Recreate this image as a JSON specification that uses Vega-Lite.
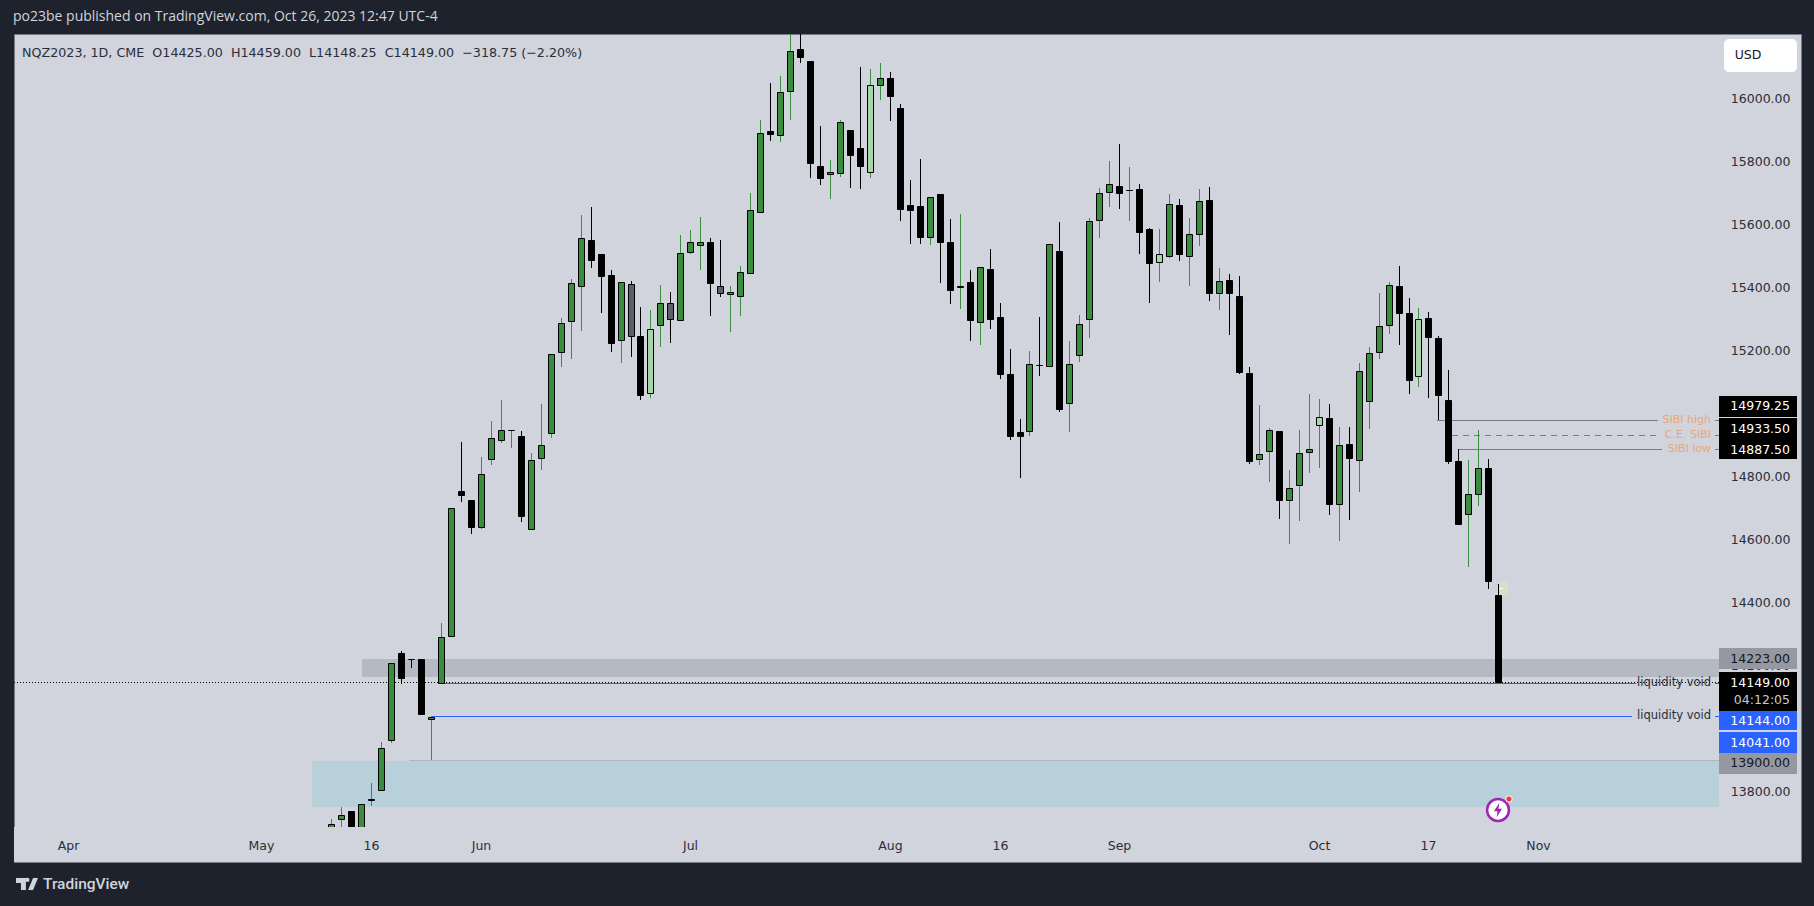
{
  "$schema": "https://vega.github.io/schema/vega-lite/v6.json",
  "description": "NQZ2023 daily candles with SIBI and liquidity void levels",
  "autosize": "none",
  "width": 1787,
  "height": 828,
  "padding": {"left": 14, "top": 34, "right": 13, "bottom": 44},
  "background": "#1e222d",
  "view": {"fill": "#d1d4dc", "stroke": "#787b86", "strokeWidth": 1},
  "title": {"text": "po23be published on TradingView.com, Oct 26, 2023 12:47 UTC-4", "anchor": "start", "frame": "group", "offset": 10, "dx": -1, "font": "Open Sans", "fontSize": 14, "fontWeight": "normal", "color": "#d1d4dc"},
  "datasets": {
    "candles": [
      {"i":0,"kind":"up","o":13662,"h":13712,"l":13646,"c":13697},
      {"i":1,"kind":"up","o":13712,"h":13750,"l":13662,"c":13726},
      {"i":2,"kind":"down","o":13739,"h":13739,"l":13652,"c":13652},
      {"i":3,"kind":"up","o":13662,"h":13761,"l":13662,"c":13761},
      {"i":4,"kind":"up","o":13772,"h":13826,"l":13755,"c":13777},
      {"i":5,"kind":"up","o":13804,"h":13956,"l":13804,"c":13938},
      {"i":6,"kind":"up","o":13963,"h":14208,"l":13955,"c":14208},
      {"i":7,"kind":"down","o":14238,"h":14246,"l":14142,"c":14161},
      {"i":8,"kind":"down","o":14221,"h":14221,"l":14192,"c":14219},
      {"i":9,"kind":"down","o":14219,"h":14219,"l":14044,"c":14044},
      {"i":10,"kind":"up","o":14029,"h":14037,"l":13900,"c":14037},
      {"i":11,"kind":"up","o":14143,"h":14334,"l":14143,"c":14291},
      {"i":12,"kind":"up","o":14293,"h":14700,"l":14293,"c":14700},
      {"i":13,"kind":"down","o":14754,"h":14909,"l":14718,"c":14739},
      {"i":14,"kind":"down","o":14726,"h":14726,"l":14618,"c":14638},
      {"i":15,"kind":"up","o":14638,"h":14861,"l":14633,"c":14808},
      {"i":16,"kind":"up","o":14854,"h":14975,"l":14836,"c":14922},
      {"i":17,"kind":"up","o":14914,"h":15042,"l":14905,"c":14947},
      {"i":18,"kind":"up","o":14946,"h":14948,"l":14890,"c":14948},
      {"i":19,"kind":"down","o":14926,"h":14944,"l":14655,"c":14675},
      {"i":20,"kind":"up","o":14632,"h":14874,"l":14632,"c":14852},
      {"i":21,"kind":"up","o":14857,"h":15029,"l":14820,"c":14900},
      {"i":22,"kind":"up","o":14937,"h":15188,"l":14921,"c":15188},
      {"i":23,"kind":"up","o":15194,"h":15301,"l":15147,"c":15287},
      {"i":24,"kind":"up","o":15292,"h":15425,"l":15172,"c":15414},
      {"i":25,"kind":"up","o":15403,"h":15628,"l":15262,"c":15556},
      {"i":26,"kind":"down","o":15550,"h":15653,"l":15462,"c":15485},
      {"i":27,"kind":"down","o":15506,"h":15506,"l":15318,"c":15435},
      {"i":28,"kind":"down","o":15439,"h":15454,"l":15195,"c":15222},
      {"i":29,"kind":"up","o":15232,"h":15417,"l":15160,"c":15417},
      {"i":30,"kind":"grey","o":15411,"h":15419,"l":15179,"c":15246},
      {"i":31,"kind":"down","o":15246,"h":15337,"l":15042,"c":15057},
      {"i":32,"kind":"light","o":15063,"h":15327,"l":15049,"c":15268},
      {"i":33,"kind":"up","o":15280,"h":15406,"l":15211,"c":15350},
      {"i":34,"kind":"grey","o":15350,"h":15385,"l":15224,"c":15299},
      {"i":35,"kind":"up","o":15295,"h":15564,"l":15295,"c":15509},
      {"i":36,"kind":"up","o":15511,"h":15581,"l":15506,"c":15544},
      {"i":37,"kind":"up","o":15533,"h":15622,"l":15454,"c":15544},
      {"i":38,"kind":"down","o":15544,"h":15555,"l":15309,"c":15412},
      {"i":39,"kind":"grey","o":15404,"h":15550,"l":15370,"c":15381},
      {"i":40,"kind":"up","o":15378,"h":15403,"l":15259,"c":15385},
      {"i":41,"kind":"up","o":15371,"h":15466,"l":15309,"c":15449},
      {"i":42,"kind":"up","o":15444,"h":15698,"l":15444,"c":15645},
      {"i":43,"kind":"up","o":15638,"h":15930,"l":15638,"c":15890},
      {"i":44,"kind":"down","o":15894,"h":16048,"l":15864,"c":15887},
      {"i":45,"kind":"up","o":15882,"h":16070,"l":15861,"c":16020},
      {"i":46,"kind":"up","o":16022,"h":16232,"l":15931,"c":16150},
      {"i":47,"kind":"down","o":16154,"h":16232,"l":16111,"c":16129},
      {"i":48,"kind":"down","o":16116,"h":16116,"l":15746,"c":15793},
      {"i":49,"kind":"down","o":15783,"h":15911,"l":15724,"c":15745},
      {"i":50,"kind":"up","o":15758,"h":15803,"l":15680,"c":15766},
      {"i":51,"kind":"up","o":15761,"h":15930,"l":15749,"c":15925},
      {"i":52,"kind":"down","o":15897,"h":15897,"l":15714,"c":15819},
      {"i":53,"kind":"down","o":15840,"h":16098,"l":15711,"c":15783},
      {"i":54,"kind":"light","o":15765,"h":16092,"l":15746,"c":16042},
      {"i":55,"kind":"up","o":16041,"h":16111,"l":15994,"c":16064},
      {"i":56,"kind":"down","o":16064,"h":16083,"l":15927,"c":16005},
      {"i":57,"kind":"down","o":15967,"h":15981,"l":15611,"c":15647},
      {"i":58,"kind":"down","o":15662,"h":15740,"l":15537,"c":15646},
      {"i":59,"kind":"down","o":15656,"h":15806,"l":15537,"c":15558},
      {"i":60,"kind":"up","o":15558,"h":15687,"l":15534,"c":15687},
      {"i":61,"kind":"down","o":15694,"h":15694,"l":15413,"c":15542},
      {"i":62,"kind":"down","o":15542,"h":15616,"l":15346,"c":15390},
      {"i":63,"kind":"up","o":15400,"h":15632,"l":15331,"c":15404},
      {"i":64,"kind":"down","o":15415,"h":15454,"l":15229,"c":15295},
      {"i":65,"kind":"up","o":15289,"h":15464,"l":15216,"c":15464},
      {"i":66,"kind":"down","o":15459,"h":15521,"l":15267,"c":15298},
      {"i":67,"kind":"down","o":15304,"h":15350,"l":15108,"c":15124},
      {"i":68,"kind":"down","o":15123,"h":15204,"l":14915,"c":14926},
      {"i":69,"kind":"down","o":14939,"h":14982,"l":14794,"c":14926},
      {"i":70,"kind":"up","o":14942,"h":15197,"l":14928,"c":15157},
      {"i":71,"kind":"down","o":15154,"h":15305,"l":15119,"c":15152},
      {"i":72,"kind":"up","o":15149,"h":15537,"l":15149,"c":15537},
      {"i":73,"kind":"down","o":15516,"h":15607,"l":15004,"c":15012},
      {"i":74,"kind":"up","o":15032,"h":15229,"l":14940,"c":15157},
      {"i":75,"kind":"up","o":15184,"h":15311,"l":15162,"c":15284},
      {"i":76,"kind":"up","o":15298,"h":15619,"l":15239,"c":15610},
      {"i":77,"kind":"up","o":15614,"h":15714,"l":15556,"c":15699},
      {"i":78,"kind":"up","o":15702,"h":15800,"l":15654,"c":15728},
      {"i":79,"kind":"down","o":15722,"h":15854,"l":15648,"c":15700},
      {"i":80,"kind":"up","o":15707,"h":15781,"l":15610,"c":15709},
      {"i":81,"kind":"down","o":15710,"h":15727,"l":15505,"c":15576},
      {"i":82,"kind":"down","o":15583,"h":15588,"l":15350,"c":15478},
      {"i":83,"kind":"light","o":15479,"h":15584,"l":15416,"c":15506},
      {"i":84,"kind":"up","o":15498,"h":15695,"l":15492,"c":15664},
      {"i":85,"kind":"down","o":15659,"h":15680,"l":15483,"c":15504},
      {"i":86,"kind":"up","o":15498,"h":15619,"l":15404,"c":15569},
      {"i":87,"kind":"up","o":15568,"h":15711,"l":15530,"c":15674},
      {"i":88,"kind":"down","o":15675,"h":15718,"l":15356,"c":15380},
      {"i":89,"kind":"up","o":15381,"h":15461,"l":15327,"c":15420},
      {"i":90,"kind":"down","o":15421,"h":15442,"l":15248,"c":15380},
      {"i":91,"kind":"down","o":15373,"h":15435,"l":15124,"c":15132},
      {"i":92,"kind":"down","o":15129,"h":15147,"l":14839,"c":14847},
      {"i":93,"kind":"up","o":14854,"h":15026,"l":14836,"c":14871},
      {"i":94,"kind":"up","o":14879,"h":14953,"l":14782,"c":14947},
      {"i":95,"kind":"down","o":14945,"h":14945,"l":14664,"c":14723},
      {"i":96,"kind":"up","o":14724,"h":14820,"l":14585,"c":14763},
      {"i":97,"kind":"up","o":14772,"h":14947,"l":14658,"c":14874},
      {"i":98,"kind":"up","o":14876,"h":15061,"l":14810,"c":14887},
      {"i":99,"kind":"light","o":14962,"h":15045,"l":14826,"c":14989},
      {"i":100,"kind":"down","o":14986,"h":15029,"l":14677,"c":14712},
      {"i":101,"kind":"up","o":14712,"h":14956,"l":14595,"c":14900},
      {"i":102,"kind":"down","o":14901,"h":14956,"l":14661,"c":14859},
      {"i":103,"kind":"up","o":14851,"h":15159,"l":14750,"c":15135},
      {"i":104,"kind":"up","o":15038,"h":15210,"l":14950,"c":15192},
      {"i":105,"kind":"up","o":15194,"h":15381,"l":15172,"c":15277},
      {"i":106,"kind":"up","o":15279,"h":15416,"l":15251,"c":15407},
      {"i":107,"kind":"down","o":15405,"h":15467,"l":15216,"c":15319},
      {"i":108,"kind":"down","o":15319,"h":15365,"l":15061,"c":15104},
      {"i":109,"kind":"light","o":15117,"h":15334,"l":15083,"c":15299},
      {"i":110,"kind":"down","o":15302,"h":15321,"l":15048,"c":15242},
      {"i":111,"kind":"down","o":15237,"h":15245,"l":14978,"c":15059},
      {"i":112,"kind":"down","o":15043,"h":15137,"l":14839,"c":14847},
      {"i":113,"kind":"down","o":14847,"h":14886,"l":14647,"c":14647},
      {"i":114,"kind":"up","o":14680,"h":14852,"l":14512,"c":14744},
      {"i":115,"kind":"up","o":14743,"h":14947,"l":14707,"c":14827},
      {"i":116,"kind":"down","o":14825,"h":14855,"l":14442,"c":14466},
      {"i":117,"kind":"down","o":14422,"h":14458,"l":14147,"c":14147}
    ]
  },
  "encoding": {
    "x": {
      "field": "i",
      "type": "quantitative",
      "scale": {"domain": [-31.81, 147.35], "nice": false, "zero": false, "round": true, "padding": 0},
      "axis": {
        "title": null,
        "orient": "bottom",
        "offset": -26,
        "zindex": 1,
        "grid": false,
        "domain": false,
        "ticks": false,
        "labelPadding": 3,
        "labelFont": "DejaVu Sans",
        "labelFontSize": 12.5,
        "labelColor": "#2a2e39",
        "labelBound": false,
        "labelFlush": false,
        "labelOverlap": false,
        "values": [-26.4, -7, 4, 15, 36, 56, 67, 79, 99, 110, 121],
        "labelExpr": "({'-26.4':'Apr','-7':'May','4':'16','15':'Jun','36':'Jul','56':'Aug','67':'16','79':'Sep','99':'Oct','110':'17','121':'Nov'})[datum.value]"
      }
    },
    "y": {
      "field": "p",
      "type": "quantitative",
      "scale": {"domain": [13576, 16203], "nice": false, "zero": false, "round": true},
      "axis": {
        "title": null,
        "orient": "right",
        "offset": -11,
        "grid": false,
        "domain": false,
        "ticks": false,
        "labelPadding": 0,
        "labelAlign": "right",
        "labelFont": "DejaVu Sans",
        "labelFontSize": 12.5,
        "labelColor": "#2a2e39",
        "labelOverlap": false,
        "values": [13800, 14200, 14400, 14600, 14800, 15200, 15400, 15600, 15800, 16000],
        "format": ".2f"
      }
    }
  },
  "layer": [
    {
      "data": {"values": [{"i": -1.93, "i2": 139.13, "p": 13896.5, "p2": 13750.5}]},
      "mark": {"type": "rect", "color": "#b8d0da"},
      "encoding": {"x2": {"field": "i2"}, "y2": {"field": "p2"}}
    },
    {
      "data": {"values": [{"i": 3.08, "i2": 139.13, "p": 14221, "p2": 14164}]},
      "mark": {"type": "rect", "color": "#b5b9c2"},
      "encoding": {"x2": {"field": "i2"}, "y2": {"field": "p2"}}
    },
    {
      "data": {"values": [{"i": 7.8, "i2": 139.13, "p": 13898.7}]},
      "mark": {"type": "rule", "color": "#b2b5be", "strokeWidth": 1, "yOffset": 0.5},
      "encoding": {"x2": {"field": "i2"}}
    },
    {
      "data": {"values": [
        {"i": 110.9, "i2": 133, "p": 14977.4},
        {"i": 138.7, "i2": 139.13, "p": 14977.4},
        {"i": 138.7, "i2": 139.13, "p": 14929.8},
        {"i": 113, "i2": 133.4, "p": 14885.4},
        {"i": 138.7, "i2": 139.13, "p": 14885.4}
      ]},
      "mark": {"type": "rule", "color": "#787b86", "strokeWidth": 1, "yOffset": 0.5},
      "encoding": {"x2": {"field": "i2"}}
    },
    {
      "data": {"values": [{"i": 112.4, "i2": 133.2, "p": 14929.8}]},
      "mark": {"type": "rule", "color": "#787b86", "strokeWidth": 1, "strokeDash": [6, 5], "yOffset": 0.5},
      "encoding": {"x2": {"field": "i2"}}
    },
    {
      "data": {"values": [
        {"i": 11, "i2": 130.8, "p": 14143},
        {"i": 138.7, "i2": 139.13, "p": 14143},
        {"i": 10, "i2": 130.4, "p": 14039.3},
        {"i": 138.7, "i2": 139.13, "p": 14039.3}
      ]},
      "mark": {"type": "rule", "color": "#2962ff", "strokeWidth": 1, "yOffset": 0.5},
      "encoding": {"x2": {"field": "i2"}}
    },
    {
      "data": {"values": [{"i": -31.81, "i2": 139.13, "p": 14146}]},
      "mark": {"type": "rule", "color": "#000000", "strokeWidth": 1, "strokeDash": [1, 2], "yOffset": 0.5},
      "encoding": {"x2": {"field": "i2"}}
    },
    {
      "data": {"name": "candles"},
      "mark": {"type": "rule", "strokeWidth": 1, "clip": true, "xOffset": 0.5},
      "encoding": {
        "y": {
          "field": "h",
          "type": "quantitative",
          "axis": {"title": null, "orient": "right", "offset": -11, "grid": false, "domain": false, "ticks": false, "labelPadding": 0, "labelAlign": "right", "labelFont": "DejaVu Sans", "labelFontSize": 12.5, "labelColor": "#2a2e39", "labelOverlap": false, "values": [13800, 14200, 14400, 14600, 14800, 15200, 15400, 15600, 15800, 16000], "format": ".2f"}
        },
        "y2": {"field": "l"},
        "stroke": {"field": "kind", "type": "nominal", "legend": null, "scale": {"domain": ["up", "light", "down", "grey"], "range": ["#388e3c", "#388e3c", "#000000", "#000000"]}}
      }
    },
    {
      "data": {"name": "candles"},
      "mark": {"type": "bar", "orient": "vertical", "size": 6, "stroke": "#000000", "strokeWidth": 1, "clip": true, "xOffset": 0.5, "yOffset": 0.5, "y2Offset": 0.5},
      "encoding": {
        "y": {
          "field": "o",
          "type": "quantitative",
          "axis": {"title": null, "orient": "right", "offset": -11, "grid": false, "domain": false, "ticks": false, "labelPadding": 0, "labelAlign": "right", "labelFont": "DejaVu Sans", "labelFontSize": 12.5, "labelColor": "#2a2e39", "labelOverlap": false, "values": [13800, 14200, 14400, 14600, 14800, 15200, 15400, 15600, 15800, 16000], "format": ".2f"}
        },
        "y2": {"field": "c"},
        "fill": {"field": "kind", "type": "nominal", "legend": null, "scale": {"domain": ["up", "light", "down", "grey"], "range": ["#388e3c", "#a5d6a7", "#000000", "#5d606b"]}}
      }
    },
    {
      "data": {"values": [{"i": 117.07, "i2": 117.98, "p": 14463.5, "p2": 14423.1}]},
      "mark": {"type": "rect", "color": "#dcdcc8"},
      "encoding": {"x2": {"field": "i2"}, "y2": {"field": "p2"}}
    },
    {
      "data": {"values": [{"i": 117.07, "i2": 117.5, "p": 14444.4}]},
      "mark": {"type": "rule", "color": "#ffffff", "strokeWidth": 1, "yOffset": 0.5},
      "encoding": {"x2": {"field": "i2"}}
    },
    {
      "data": {"values": [{"i": -31.81, "i2": 139.13, "p": 13687, "p2": 13576}]},
      "mark": {"type": "rect", "color": "#d1d4dc"},
      "encoding": {"x2": {"field": "i2"}, "y2": {"field": "p2"}}
    },
    {
      "data": {"values": [{"i": -31, "p": 16143, "label": "NQZ2023, 1D, CME\u00a0\u00a0O14425.00\u00a0\u00a0H14459.00\u00a0\u00a0L14148.25\u00a0\u00a0C14149.00\u00a0\u00a0\u2212318.75 (\u22122.20%)"}]},
      "mark": {"type": "text", "align": "left", "baseline": "middle", "font": "DejaVu Sans", "fontSize": 12.7, "color": "#2a2e39"},
      "encoding": {"text": {"field": "label"}}
    },
    {
      "data": {"values": [{"i": 139.63, "i2": 146.95, "p": 16187.2, "p2": 16082.5}]},
      "mark": {"type": "rect", "color": "#ffffff", "cornerRadius": 5},
      "encoding": {"x2": {"field": "i2"}, "y2": {"field": "p2"}}
    },
    {
      "data": {"values": [{"i": 142.05, "p": 16136.4, "label": "USD"}]},
      "mark": {"type": "text", "align": "center", "baseline": "middle", "font": "DejaVu Sans", "fontSize": 12.5, "color": "#131722"},
      "encoding": {"text": {"field": "label"}}
    },
    {
      "data": {"values": [
        {"i": 138.3, "p": 14977.4, "label": "SIBI high"},
        {"i": 138.3, "p": 14929.8, "label": "C.E. SIBI"},
        {"i": 138.3, "p": 14885.4, "label": "SIBI low"}
      ]},
      "mark": {"type": "text", "align": "right", "baseline": "middle", "font": "DejaVu Sans", "fontSize": 11, "color": "#e9a873"},
      "encoding": {"text": {"field": "label"}}
    },
    {
      "data": {"values": [
        {"i": 138.3, "p": 14143, "label": "liquidity void"},
        {"i": 138.3, "p": 14039.3, "label": "liquidity void"}
      ]},
      "mark": {"type": "text", "align": "right", "baseline": "middle", "font": "DejaVu Sans", "fontSize": 11.5, "color": "#2a2e39"},
      "encoding": {"text": {"field": "label"}}
    },
    {
      "data": {"values": [
        {"i": 139.13, "i2": 146.95, "p": 15054.5, "p2": 14986.3},
        {"i": 139.13, "i2": 146.95, "p": 14983.1, "p2": 14918.1},
        {"i": 139.13, "i2": 146.95, "p": 14918.1, "p2": 14853.1},
        {"i": 139.13, "i2": 146.95, "p": 14178, "p2": 14056.1}
      ]},
      "mark": {"type": "rect", "color": "#000000"},
      "encoding": {"x2": {"field": "i2"}, "y2": {"field": "p2"}}
    },
    {
      "data": {"values": [
        {"i": 139.13, "i2": 146.95, "p": 14054.2, "p2": 13993.3},
        {"i": 139.13, "i2": 146.95, "p": 13988.2, "p2": 13921.9}
      ]},
      "mark": {"type": "rect", "color": "#2962ff"},
      "encoding": {"x2": {"field": "i2"}, "y2": {"field": "p2"}}
    },
    {
      "data": {"values": [
        {"i": 139.13, "i2": 146.95, "p": 14254.4, "p2": 14188.4},
        {"i": 139.13, "i2": 146.95, "p": 13921.9, "p2": 13854}
      ]},
      "mark": {"type": "rect", "color": "#9598a1"},
      "encoding": {"x2": {"field": "i2"}, "y2": {"field": "p2"}}
    },
    {
      "data": {"values": [
        {"i": 146.25, "p": 15022.8, "label": "14979.25"},
        {"i": 146.25, "p": 14949.8, "label": "14933.50"},
        {"i": 146.25, "p": 14884.5, "label": "14887.50"},
        {"i": 146.25, "p": 14144.6, "label": "14149.00"},
        {"i": 146.25, "p": 14024.7, "label": "14144.00"},
        {"i": 146.25, "p": 13954.9, "label": "14041.00"}
      ]},
      "mark": {"type": "text", "align": "right", "baseline": "middle", "font": "DejaVu Sans", "fontSize": 12.5, "color": "#ffffff"},
      "encoding": {"text": {"field": "label"}}
    },
    {
      "data": {"values": [{"i": 146.25, "p": 14089.1, "label": "04:12:05"}]},
      "mark": {"type": "text", "align": "right", "baseline": "middle", "font": "DejaVu Sans", "fontSize": 12.5, "color": "#c8cbd3"},
      "encoding": {"text": {"field": "label"}}
    },
    {
      "data": {"values": [
        {"i": 146.25, "p": 14221.4, "label": "14223.00"},
        {"i": 146.25, "p": 13889, "label": "13900.00"}
      ]},
      "mark": {"type": "text", "align": "right", "baseline": "middle", "font": "DejaVu Sans", "fontSize": 12.5, "color": "#131722"},
      "encoding": {"text": {"field": "label"}}
    },
    {
      "data": {"values": [{"i": 117, "p": 13741}]},
      "mark": {"type": "point", "shape": "circle", "size": 480, "filled": true, "fill": "#ffffff", "stroke": "#9c27b0", "strokeWidth": 2.5, "opacity": 1},
      "encoding": {}
    },
    {
      "data": {"values": [{"i": 117, "p": 13741}]},
      "mark": {"type": "point", "shape": "M0.15 -0.8 L-0.45 0.15 H-0.05 L-0.15 0.8 L0.45 -0.15 H0.05 Z", "size": 320, "filled": true, "color": "#9c27b0", "opacity": 1},
      "encoding": {}
    },
    {
      "data": {"values": [{"i": 118.07, "p": 13776}]},
      "mark": {"type": "point", "shape": "circle", "size": 40, "filled": true, "fill": "#f23645", "stroke": "#ffffff", "strokeWidth": 1, "opacity": 1},
      "encoding": {}
    },
    {
      "data": {"values": [{"i": -30.5, "p": 13506}]},
      "mark": {"type": "point", "shape": "M-1 -0.55 H-0.1 V0.55 H-0.55 V-0.1 H-1 Z M0.55 -0.55 H1 L0.55 0.55 H0.1 Z M0.12 -0.55 A0.17 0.17 0 1 1 -0.05 -0.2 A0.17 0.17 0 0 1 0.12 -0.55 Z", "size": 484, "filled": true, "color": "#d1d4dc", "opacity": 1, "clip": false},
      "encoding": {}
    },
    {
      "data": {"values": [{"i": -28.9, "p": 13506, "label": "TradingView"}]},
      "mark": {"type": "text", "align": "left", "baseline": "middle", "font": "Roboto", "fontSize": 15.5, "fontWeight": 500, "color": "#d1d4dc"},
      "encoding": {"text": {"field": "label"}}
    }
  ]
}
